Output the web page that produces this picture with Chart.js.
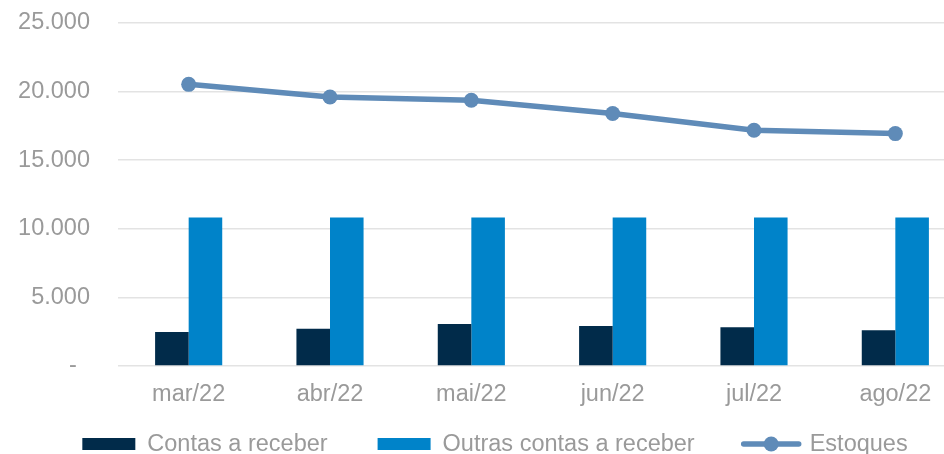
<!DOCTYPE html>
<html>
<head>
<meta charset="utf-8">
<script src="https://cdn.jsdelivr.net/npm/chart.js@4/dist/chart.umd.min.js"></script>
<style>
  html, body { margin: 0; padding: 0; background: #ffffff; }
  #wrap { width: 944px; height: 454px; overflow: hidden; position: relative; }
  canvas { display: block; }
</style>
</head>
<body>
<div id="wrap"><canvas id="c" width="988" height="454"></canvas></div>
<script>
const categories = ['mar/22', 'abr/22', 'mai/22', 'jun/22', 'jul/22', 'ago/22'];
const contasReceber = [2480, 2720, 3060, 2920, 2820, 2600];
const outrasContas = [10820, 10820, 10820, 10820, 10820, 10820];
const estoques = [20530, 19610, 19370, 18400, 17180, 16940];
const seriesNames = ['Contas a receber', 'Outras contas a receber', 'Estoques'];
const yTicks = [0, 5000, 10000, 15000, 20000, 25000];

const FONT = '"Liberation Sans", Arial, sans-serif';
const FSIZE = 23.5;
const TXT = '#9a9a9a';
const C_DARK = '#012b4a';
const C_BLUE = '#0083c9';
const C_LINE = '#5f8bb8';

function fmt(v) {
  if (v === 0) return '-  ';
  return String(v).replace(/\B(?=(\d{3})+(?!\d))/g, '.');
}

const legendPlugin = {
  id: 'customLegend',
  afterDraw(chart) {
    const ctx = chart.ctx;
    ctx.save();
    ctx.font = FSIZE + 'px ' + FONT;
    ctx.textBaseline = 'middle';
    ctx.textAlign = 'left';
    const y = 444;
    const boxW = 53, gapText = 12, gapItem = 50;
    const items = chart.data.datasets.map(ds => ({ ds, w: boxW + gapText + ctx.measureText(ds.label).width }));
    const total = items.reduce((s, it) => s + it.w, 0) + gapItem * (items.length - 1);
    let x = 495 - total / 2;
    items.forEach(it => {
      const ds = it.ds;
      if (ds.type === 'line') {
        ctx.strokeStyle = ds.borderColor;
        ctx.lineWidth = 5.5;
        ctx.lineCap = 'round';
        ctx.beginPath();
        ctx.moveTo(x - 1, y);
        ctx.lineTo(x + boxW + 1, y);
        ctx.stroke();
        ctx.fillStyle = ds.borderColor;
        ctx.beginPath();
        ctx.arc(x + boxW / 2, y, 7.5, 0, Math.PI * 2);
        ctx.fill();
      } else {
        ctx.fillStyle = ds.backgroundColor;
        ctx.fillRect(x, y - 6, boxW, 12);
      }
      ctx.fillStyle = TXT;
      ctx.fillText(ds.label, x + boxW + gapText, y + 1);
      x += it.w + gapItem;
    });
    ctx.restore();
  }
};

new Chart(document.getElementById('c'), {
  data: {
    labels: categories,
    datasets: [
      { type: 'bar', label: seriesNames[0], data: contasReceber, backgroundColor: C_DARK, order: 2,
        barPercentage: 1, categoryPercentage: 0.475 },
      { type: 'bar', label: seriesNames[1], data: outrasContas, backgroundColor: C_BLUE, order: 2,
        barPercentage: 1, categoryPercentage: 0.475 },
      { type: 'line', label: seriesNames[2], data: estoques, borderColor: C_LINE, backgroundColor: C_LINE,
        borderWidth: 5.5, pointRadius: 7.5, pointHoverRadius: 7.5, pointBackgroundColor: C_LINE,
        pointBorderWidth: 0, tension: 0, fill: false, order: 0 }
    ]
  },
  options: {
    responsive: false,
    animation: false,
    devicePixelRatio: 1,
    layout: { padding: { top: 23, right: 22, left: 0, bottom: 0 } },
    plugins: { legend: { display: false }, tooltip: { enabled: false } },
    scales: {
      x: {
        offset: true,
        grid: { display: false, drawTicks: false },
        border: { display: false },
        ticks: { color: TXT, font: { family: FONT, size: FSIZE }, padding: 14, maxRotation: 0 },
        afterFit(scale) { scale.height = 88; scale.paddingTop = 0; scale.paddingBottom = 0; }
      },
      y: {
        min: 0, max: 25000,
        afterBuildTicks(scale) { scale.ticks = yTicks.map(v => ({ value: v })); },
        grid: { color: '#e3e3e3', lineWidth: 1.5, drawTicks: false },
        border: { display: false },
        ticks: { color: TXT, font: { family: FONT, size: FSIZE }, padding: 28, callback: v => fmt(v) },
        afterFit(scale) { scale.width = 118; scale.paddingTop = 0; scale.paddingBottom = 0; }
      }
    }
  },
  plugins: [legendPlugin]
});
</script>
</body>
</html>
